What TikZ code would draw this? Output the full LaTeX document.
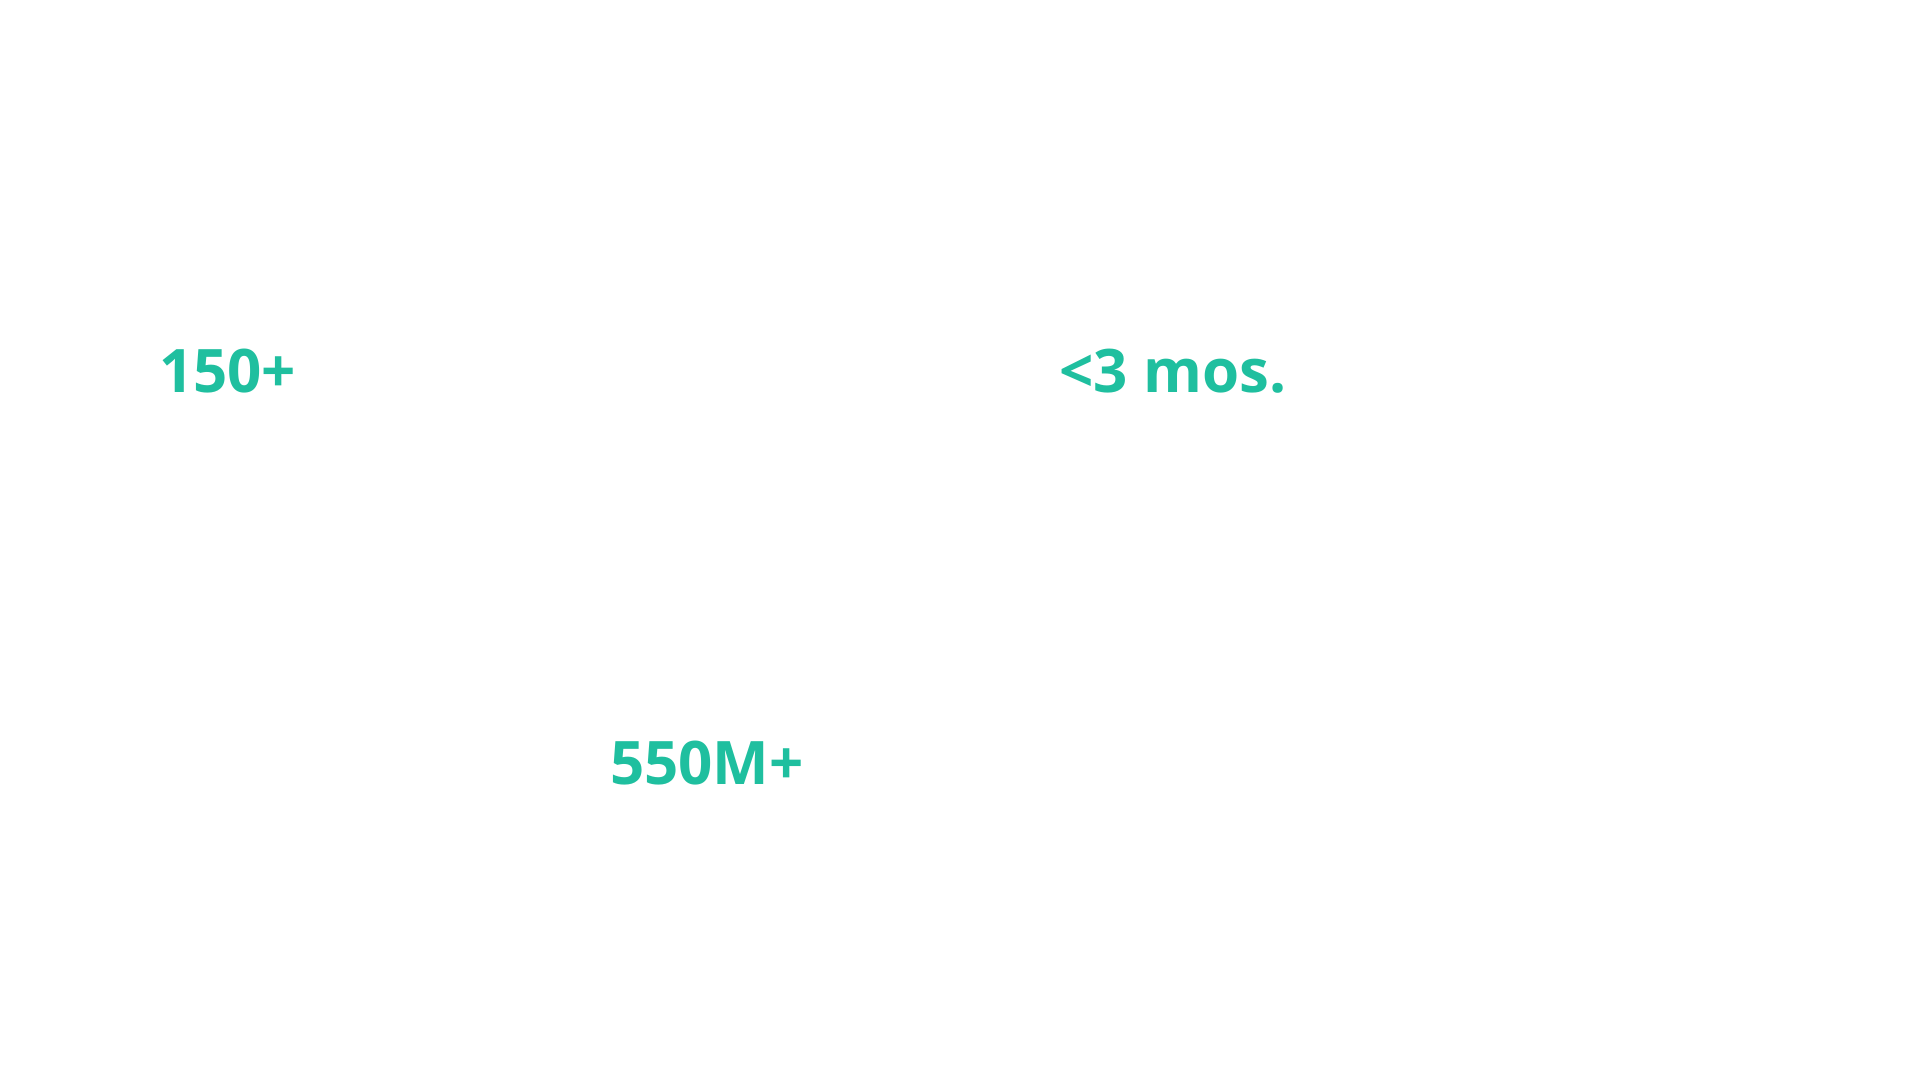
\documentclass[tikz,border=0pt]{standalone}
\usepackage{fontspec}
\setmainfont{Open Sans}
\definecolor{teal}{HTML}{1FBF9F}
\begin{document}
\begin{tikzpicture}[x=1pt,y=-1pt,stat/.style={anchor=base west,inner sep=0pt,text=teal,font=\fontsize{60}{60}\selectfont\bfseries}]
\useasboundingbox[fill=white] (0,0) rectangle (1920,1080);
\node[stat] (a) at (159,392) {150+};
\node[stat] (b) at (1059,392) {<3 mos.};
\node[stat] (c) at (610,784) {550M+};
\end{tikzpicture}
\end{document}
